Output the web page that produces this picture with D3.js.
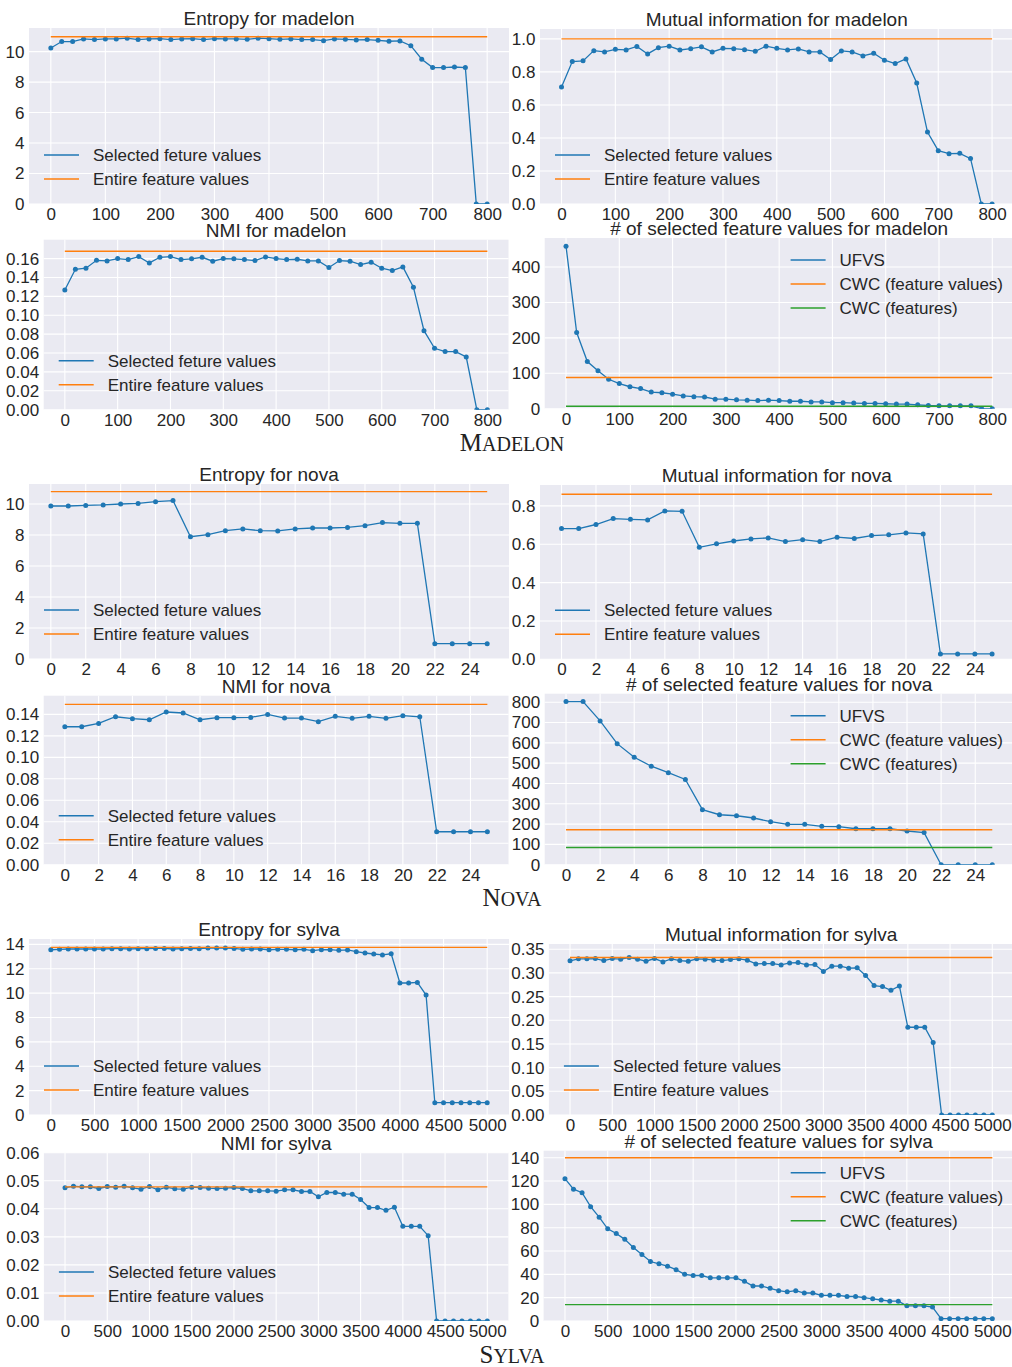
<!DOCTYPE html>
<html><head><meta charset="utf-8">
<script src="https://cdn.jsdelivr.net/npm/d3@7"></script>
<style>body{margin:0;background:#fff}svg{display:block}</style>
</head><body><svg id="c" width="1012" height="1367"></svg>
<script>
// ---------------- DATA ----------------
const madelonSteps = [0,20,40,60,80,100,120,140,160,180,200,220,240,260,280,300,320,340,360,380,400,420,440,460,480,500,520,540,560,580,600,620,640,660,680,700,720,740,760,780,800];
const madelonEntropy = [10.24,10.66,10.66,10.83,10.79,10.83,10.83,10.88,10.79,10.83,10.85,10.79,10.83,10.85,10.79,10.85,10.83,10.83,10.81,10.88,10.85,10.81,10.83,10.79,10.79,10.72,10.83,10.81,10.77,10.79,10.74,10.68,10.70,10.39,9.50,8.95,8.95,8.99,8.95,0,0];
const madelonEntropyAll = 10.98;
const madelonMI = [0.709,0.863,0.867,0.929,0.921,0.937,0.933,0.954,0.909,0.947,0.956,0.933,0.941,0.952,0.921,0.943,0.941,0.935,0.925,0.956,0.943,0.933,0.939,0.921,0.921,0.875,0.927,0.921,0.897,0.913,0.871,0.851,0.879,0.733,0.436,0.323,0.305,0.307,0.275,0,0];
const madelonMIAll = 1.0;
const madelonNMI = [0.1268,0.1487,0.1498,0.1582,0.1575,0.1600,0.1590,0.1621,0.1554,0.1614,0.1621,0.1590,0.1597,0.1614,0.1572,0.1600,0.1597,0.1590,0.1579,0.1618,0.1600,0.1590,0.1593,0.1575,0.1575,0.1505,0.1579,0.1572,0.1537,0.1561,0.1498,0.1473,0.1512,0.1296,0.0837,0.0650,0.0615,0.0615,0.0558,0,0];
const madelonNMIAll = 0.1678;
const madelonCount = [459,215,133,107,83,71,62,57,47,45,41,36,34,33,27,27,25,24,23,24,23,21,21,19,19,17,17,16,15,15,14,13,13,11,9,8,8,8,8,0,0];
const madelonCWCValues = 88;
const madelonCWCFeatures = 7;

const novaSteps = [0,1,2,3,4,5,6,7,8,9,10,11,12,13,14,15,16,17,18,19,20,21,22,23,24,25];
const novaEntropy = [9.87,9.87,9.91,9.94,10.0,10.04,10.15,10.22,7.89,8.02,8.28,8.39,8.28,8.26,8.39,8.45,8.45,8.49,8.60,8.80,8.75,8.75,0.99,0.99,0.99,0.99];
const novaEntropyAll = 10.80;
const novaMI = [0.682,0.682,0.703,0.734,0.730,0.727,0.774,0.772,0.584,0.602,0.617,0.628,0.633,0.614,0.624,0.614,0.637,0.630,0.645,0.649,0.659,0.654,0.028,0.028,0.028,0.028];
const novaMIAll = 0.861;
const novaNMI = [0.1285,0.1285,0.1316,0.1378,0.1360,0.1350,0.1422,0.1413,0.1350,0.1369,0.1369,0.1372,0.1400,0.1366,0.1366,0.1332,0.1382,0.1363,0.1382,0.1363,0.1388,0.1378,0.0307,0.0307,0.0307,0.0307];
const novaNMIAll = 0.1493;
const novaCount = [803,803,708,596,529,485,453,420,271,246,241,230,212,199,199,189,187,177,177,177,166,158,0,0,0,0];
const novaCWCValues = 172;
const novaCWCFeatures = 85;

const sylvaSteps = [0,100,200,300,400,500,600,700,800,900,1000,1100,1200,1300,1400,1500,1600,1700,1800,1900,2000,2100,2200,2300,2400,2500,2600,2700,2800,2900,3000,3100,3200,3300,3400,3500,3600,3700,3800,3900,4000,4100,4200,4300,4400,4500,4600,4700,4800,4900,5000];
const sylvaEntropy = [13.56,13.59,13.62,13.62,13.62,13.62,13.62,13.65,13.65,13.62,13.65,13.65,13.67,13.67,13.62,13.65,13.67,13.65,13.70,13.70,13.70,13.67,13.59,13.62,13.62,13.56,13.59,13.59,13.56,13.59,13.48,13.56,13.56,13.51,13.54,13.40,13.29,13.21,13.13,13.23,10.83,10.83,10.88,9.84,1.01,1.01,1.01,1.01,1.01,1.01,1.01];
const sylvaEntropyAll = 13.75;
const sylvaMI = [0.3254,0.3296,0.3296,0.3303,0.3260,0.3303,0.3289,0.3324,0.3289,0.3246,0.3303,0.3232,0.3296,0.3260,0.3246,0.3296,0.3289,0.3268,0.3260,0.3282,0.3296,0.3268,0.3190,0.3197,0.3197,0.3169,0.3211,0.3218,0.3169,0.3176,0.3028,0.3141,0.3141,0.3099,0.3106,0.2944,0.2732,0.2711,0.2634,0.2725,0.1852,0.1852,0.1852,0.1528,0,0,0,0,0,0,0];
const sylvaMIAll = 0.3324;
const sylvaNMI = [0.04748,0.04807,0.04783,0.04783,0.04724,0.04795,0.04772,0.04807,0.04748,0.04700,0.04795,0.04676,0.04772,0.04712,0.04700,0.04772,0.04760,0.04736,0.04724,0.04736,0.04760,0.04724,0.04640,0.04640,0.04640,0.04628,0.04676,0.04676,0.04617,0.04617,0.04426,0.04581,0.04581,0.04521,0.04521,0.04330,0.04044,0.04044,0.03948,0.04056,0.03376,0.03376,0.03376,0.03042,0,0,0,0,0,0,0];
const sylvaNMIAll = 0.04783;
const sylvaCount = [122,113,110,98,89,79,75,70,63,57,51,49,47,44,40,39,39,37,37,37,37,34,30,30,28,26,25,26,24,24,22,22,22,21,21,20,19,18,17,17,13,13,13,12,2,2,2,2,2,2,2];
const sylvaCWCValues = 140;
const sylvaCWCFeatures = 14;

// tick values
const madelonXTicks = [0,100,200,300,400,500,600,700,800];
const novaXTicks = [0,2,4,6,8,10,12,14,16,18,20,22,24];
const sylvaXTicks = [0,500,1000,1500,2000,2500,3000,3500,4000,4500,5000];
const entropyTicks10 = [0,2,4,6,8,10];
const entropyTicks14 = [0,2,4,6,8,10,12,14];
const miTicksMadelon = [0,0.2,0.4,0.6,0.8,1.0];
const miTicksNova = [0,0.2,0.4,0.6,0.8];
const miTicksSylva = [0,0.05,0.10,0.15,0.20,0.25,0.30,0.35];
const nmiTicksMadelon = [0,0.02,0.04,0.06,0.08,0.10,0.12,0.14,0.16];
const nmiTicksNova = [0,0.02,0.04,0.06,0.08,0.10,0.12,0.14];
const nmiTicksSylva = [0,0.01,0.02,0.03,0.04,0.05,0.06];
const countTicksMadelon = [0,100,200,300,400];
const countTicksNova = [0,100,200,300,400,500,600,700,800];
const countTicksSylva = [0,20,40,60,80,100,120,140];

const labelsA = ["Selected feture values","Entire feature values"];
const labelsB = ["UFVS","CWC (feature values)","CWC (features)"];

// ---------------- LAYOUT / STYLE ----------------
const FONT = '"Liberation Sans", Arial, Helvetica, sans-serif';
const COL = {blue:"#1f77b4", orange:"#ff7f0e", green:"#2ca02c", bg:"#eaeaf2", text:"#262626"};

const panels = [
 {t:"Entropy for madelon", r:[29,509,28,204], yMax:11.55, sx:madelonSteps, xt:madelonXTicks, yt:entropyTicks10, f:"d", main:madelonEntropy, refs:[madelonEntropyAll], leg:"ll", lab:labelsA},
 {t:"Mutual information for madelon", r:[540,1013.6,29,204], yMax:1.06, sx:madelonSteps, xt:madelonXTicks, yt:miTicksMadelon, f:".1f", main:madelonMI, refs:[madelonMIAll], leg:"ll", lab:labelsA},
 {t:"NMI for madelon", r:[43.7,508.5,239.7,409.7], yMax:0.180, sx:madelonSteps, xt:madelonXTicks, yt:nmiTicksMadelon, f:".2f", main:madelonNMI, refs:[madelonNMIAll], leg:"ll", lab:labelsA},
 {t:"# of selected feature values for madelon", r:[544.7,1013.6,238,408.7], yMax:482, sx:madelonSteps, xt:madelonXTicks, yt:countTicksMadelon, f:"d", main:madelonCount, refs:[madelonCWCValues, madelonCWCFeatures], leg:"ur", lab:labelsB},

 {t:"Entropy for nova", r:[29,509,484,659], yMax:11.29, sx:novaSteps, xt:novaXTicks, yt:entropyTicks10, f:"d", main:novaEntropy, refs:[novaEntropyAll], leg:"ll", lab:labelsA},
 {t:"Mutual information for nova", r:[540,1013.6,485,659.3], yMax:0.909, sx:novaSteps, xt:novaXTicks, yt:miTicksNova, f:".1f", main:novaMI, refs:[novaMIAll], leg:"ll", lab:labelsA},
 {t:"NMI for nova", r:[43.7,508.5,695.7,864.7], yMax:0.1574, sx:novaSteps, xt:novaXTicks, yt:nmiTicksNova, f:".2f", main:novaNMI, refs:[novaNMIAll], leg:"ll", lab:labelsA},
 {t:"# of selected feature values for nova", r:[544.7,1013.6,693.7,864.7], yMax:842, sx:novaSteps, xt:novaXTicks, yt:countTicksNova, f:"d", main:novaCount, refs:[novaCWCValues, novaCWCFeatures], leg:"ur", lab:labelsB},

 {t:"Entropy for sylva", r:[29,509,939,1115], yMax:14.44, sx:sylvaSteps, xt:sylvaXTicks, yt:entropyTicks14, f:"d", main:sylvaEntropy, refs:[sylvaEntropyAll], leg:"ll", lab:labelsA},
 {t:"Mutual information for sylva", r:[548.9,1013.4,944,1115], yMax:0.361, sx:sylvaSteps, xt:sylvaXTicks, yt:miTicksSylva, f:".2f", main:sylvaMI, refs:[sylvaMIAll], leg:"ll", lab:labelsA},
 {t:"NMI for sylva", r:[43.9,508.4,1152.7,1321], yMax:0.06, sx:sylvaSteps, xt:sylvaXTicks, yt:nmiTicksSylva, f:".2f", main:sylvaNMI, refs:[sylvaNMIAll], leg:"ll", lab:labelsA},
 {t:"# of selected feature values for sylva", r:[543.6,1013.7,1150.7,1321], yMax:146, sx:sylvaSteps, xt:sylvaXTicks, yt:countTicksSylva, f:"d", main:sylvaCount, refs:[sylvaCWCValues, sylvaCWCFeatures], leg:"ur", lab:labelsB}
];

const svg = d3.select("#c");
const defs = svg.append("defs");
const refColors = [COL.orange, COL.green];

panels.forEach((p, i) => {
  const [L, R, T, B] = p.r;
  const xmax = p.sx[p.sx.length - 1];
  const x = d3.scaleLinear().domain([-0.05 * xmax, 1.05 * xmax]).range([L, R]);
  const y = d3.scaleLinear().domain([0, p.yMax]).range([B, T]);
  const g = svg.append("g");

  defs.append("clipPath").attr("id", "clip" + i)
    .append("rect").attr("x", L).attr("y", T).attr("width", R - L).attr("height", B - T);

  g.append("rect").attr("x", L).attr("y", T).attr("width", R - L).attr("height", B - T).attr("fill", COL.bg);

  g.append("g").selectAll("line").data(p.xt).join("line")
    .attr("x1", d => x(d)).attr("x2", d => x(d)).attr("y1", T).attr("y2", B)
    .attr("stroke", "#fff").attr("stroke-width", 1.1);
  g.append("g").selectAll("line").data(p.yt).join("line")
    .attr("x1", L).attr("x2", R).attr("y1", d => y(d)).attr("y2", d => y(d))
    .attr("stroke", "#fff").attr("stroke-width", 1.1);

  const ax = g.append("g").attr("transform", `translate(0,${B})`)
    .call(d3.axisBottom(x).tickValues(p.xt).tickSize(0).tickPadding(4).tickFormat(d3.format("d")));
  const ay = g.append("g").attr("transform", `translate(${L},0)`)
    .call(d3.axisLeft(y).tickValues(p.yt).tickSize(0).tickPadding(4.5).tickFormat(d3.format(p.f)));
  [ax, ay].forEach(a => {
    a.select(".domain").remove();
    a.attr("font-size", 17).attr("font-family", FONT);
    a.selectAll("text").attr("fill", COL.text);
  });

  const plot = g.append("g").attr("clip-path", `url(#clip${i})`);
  const line = d3.line().x(d => x(d[0])).y(d => y(d[1]));
  const pts = d3.zip(p.sx, p.main);
  plot.append("path").datum(pts).attr("d", line)
    .attr("fill", "none").attr("stroke", COL.blue).attr("stroke-width", 1.3);
  plot.append("g").selectAll("circle").data(pts).join("circle")
    .attr("cx", d => x(d[0])).attr("cy", d => y(d[1])).attr("r", 2.5).attr("fill", COL.blue);
  p.refs.forEach((v, k) => {
    plot.append("path").datum([[p.sx[0], v], [xmax, v]]).attr("d", line)
      .attr("fill", "none").attr("stroke", refColors[k]).attr("stroke-width", 1.4);
  });

  g.append("text").attr("x", (L + R) / 2).attr("y", T - 3).attr("text-anchor", "middle")
    .attr("font-family", FONT).attr("font-size", 19).attr("fill", COL.text).text(p.t);

  const colors = [COL.blue].concat(refColors);
  const n = p.lab.length;
  const lg = g.append("g");
  p.lab.forEach((lab, k) => {
    let ly, lx0;
    if (p.leg === "ll") { ly = B - 25 - 24 * (n - 1 - k); lx0 = L + 15; }
    else { ly = T + 22 + 24 * k; lx0 = R - 223; }
    lg.append("line").attr("x1", lx0).attr("x2", lx0 + 35).attr("y1", ly).attr("y2", ly)
      .attr("stroke", colors[k]).attr("stroke-width", 1.4);
    lg.append("text").attr("x", lx0 + 49).attr("y", ly).attr("dy", "0.35em")
      .attr("font-family", FONT).attr("font-size", 17).attr("fill", COL.text).text(lab);
  });
});

// dataset captions (small caps)
const captions = [
  {first:"M", rest:"ADELON", y:451},
  {first:"N", rest:"OVA", y:906},
  {first:"S", rest:"YLVA", y:1363}
];
captions.forEach(c => {
  const t = svg.append("text").attr("x", 512).attr("y", c.y).attr("text-anchor", "middle")
    .attr("font-family", '"Liberation Serif", "Times New Roman", serif').attr("fill", "#222");
  t.append("tspan").attr("font-size", 25).text(c.first);
  t.append("tspan").attr("font-size", 20).text(c.rest);
});
</script></body></html>
